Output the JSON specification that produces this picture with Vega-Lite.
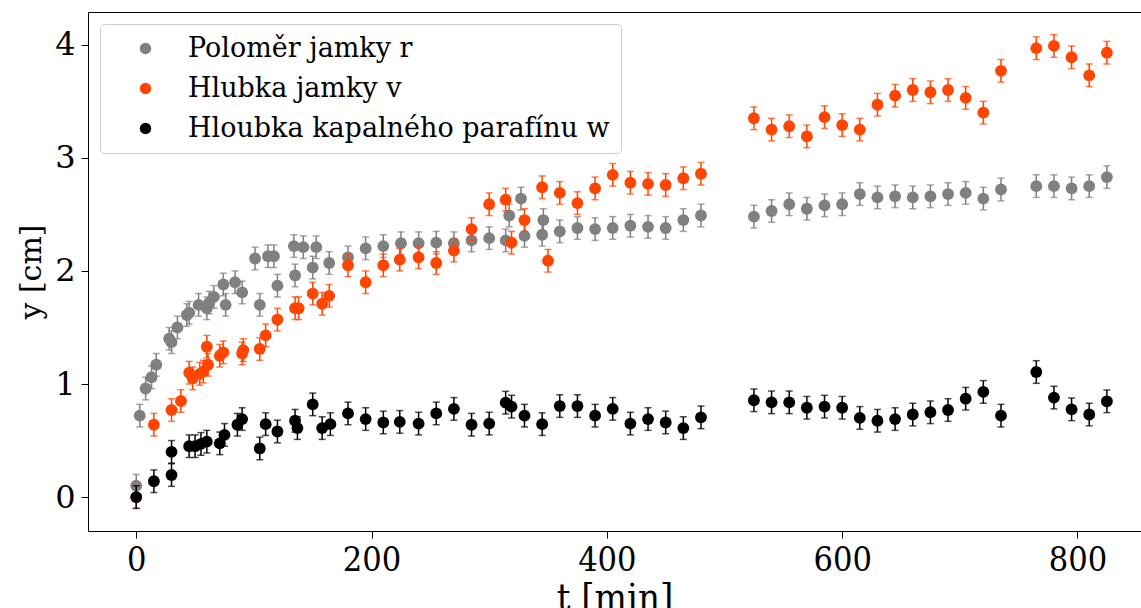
{
  "$schema": "https://vega.github.io/schema/vega-lite/v6.json",
  "width": 1053,
  "height": 519,
  "autosize": {"type": "none"},
  "padding": {"left": 88, "top": 12, "right": 0, "bottom": 77},
  "background": "white",
  "data": {"values": [
      {"s":"Poloměr jamky r","t":0,"y":0.10,"e":0.1},{"s":"Poloměr jamky r","t":3,"y":0.72,"e":0.1},{"s":"Poloměr jamky r","t":8,"y":0.96,"e":0.1},{"s":"Poloměr jamky r","t":13,"y":1.06,"e":0.1},{"s":"Poloměr jamky r","t":17,"y":1.17,"e":0.1},{"s":"Poloměr jamky r","t":28,"y":1.40,"e":0.1},{"s":"Poloměr jamky r","t":30,"y":1.37,"e":0.1},{"s":"Poloměr jamky r","t":35,"y":1.50,"e":0.1},{"s":"Poloměr jamky r","t":43,"y":1.61,"e":0.1},{"s":"Poloměr jamky r","t":45,"y":1.63,"e":0.1},{"s":"Poloměr jamky r","t":53,"y":1.70,"e":0.1},{"s":"Poloměr jamky r","t":60,"y":1.67,"e":0.1},{"s":"Poloměr jamky r","t":62,"y":1.72,"e":0.1},{"s":"Poloměr jamky r","t":66,"y":1.77,"e":0.1},{"s":"Poloměr jamky r","t":74,"y":1.88,"e":0.1},{"s":"Poloměr jamky r","t":76,"y":1.70,"e":0.1},{"s":"Poloměr jamky r","t":84,"y":1.90,"e":0.1},{"s":"Poloměr jamky r","t":90,"y":1.81,"e":0.1},{"s":"Poloměr jamky r","t":101,"y":2.11,"e":0.1},{"s":"Poloměr jamky r","t":105,"y":1.70,"e":0.1},{"s":"Poloměr jamky r","t":112,"y":2.13,"e":0.1},{"s":"Poloměr jamky r","t":117,"y":2.13,"e":0.1},{"s":"Poloměr jamky r","t":120,"y":1.87,"e":0.1},{"s":"Poloměr jamky r","t":134,"y":2.22,"e":0.1},{"s":"Poloměr jamky r","t":135,"y":1.96,"e":0.1},{"s":"Poloměr jamky r","t":142,"y":2.21,"e":0.1},{"s":"Poloměr jamky r","t":150,"y":2.03,"e":0.1},{"s":"Poloměr jamky r","t":153,"y":2.21,"e":0.1},{"s":"Poloměr jamky r","t":164,"y":2.07,"e":0.1},{"s":"Poloměr jamky r","t":180,"y":2.12,"e":0.1},{"s":"Poloměr jamky r","t":195,"y":2.20,"e":0.1},{"s":"Poloměr jamky r","t":210,"y":2.22,"e":0.1},{"s":"Poloměr jamky r","t":225,"y":2.245,"e":0.1},{"s":"Poloměr jamky r","t":240,"y":2.245,"e":0.1},{"s":"Poloměr jamky r","t":255,"y":2.25,"e":0.1},{"s":"Poloměr jamky r","t":270,"y":2.245,"e":0.1},{"s":"Poloměr jamky r","t":285,"y":2.27,"e":0.1},{"s":"Poloměr jamky r","t":300,"y":2.29,"e":0.1},{"s":"Poloměr jamky r","t":314,"y":2.27,"e":0.1},{"s":"Poloměr jamky r","t":317,"y":2.49,"e":0.1},{"s":"Poloměr jamky r","t":327,"y":2.64,"e":0.1},{"s":"Poloměr jamky r","t":330,"y":2.31,"e":0.1},{"s":"Poloměr jamky r","t":345,"y":2.32,"e":0.1},{"s":"Poloměr jamky r","t":346,"y":2.45,"e":0.1},{"s":"Poloměr jamky r","t":360,"y":2.35,"e":0.1},{"s":"Poloměr jamky r","t":375,"y":2.38,"e":0.1},{"s":"Poloměr jamky r","t":390,"y":2.37,"e":0.1},{"s":"Poloměr jamky r","t":405,"y":2.38,"e":0.1},{"s":"Poloměr jamky r","t":420,"y":2.40,"e":0.1},{"s":"Poloměr jamky r","t":435,"y":2.39,"e":0.1},{"s":"Poloměr jamky r","t":450,"y":2.38,"e":0.1},{"s":"Poloměr jamky r","t":465,"y":2.45,"e":0.1},{"s":"Poloměr jamky r","t":480,"y":2.49,"e":0.1},{"s":"Poloměr jamky r","t":525,"y":2.48,"e":0.1},{"s":"Poloměr jamky r","t":540,"y":2.53,"e":0.1},{"s":"Poloměr jamky r","t":555,"y":2.59,"e":0.1},{"s":"Poloměr jamky r","t":570,"y":2.55,"e":0.1},{"s":"Poloměr jamky r","t":585,"y":2.58,"e":0.1},{"s":"Poloměr jamky r","t":600,"y":2.59,"e":0.1},{"s":"Poloměr jamky r","t":615,"y":2.68,"e":0.1},{"s":"Poloměr jamky r","t":630,"y":2.65,"e":0.1},{"s":"Poloměr jamky r","t":645,"y":2.66,"e":0.1},{"s":"Poloměr jamky r","t":660,"y":2.65,"e":0.1},{"s":"Poloměr jamky r","t":675,"y":2.66,"e":0.1},{"s":"Poloměr jamky r","t":690,"y":2.68,"e":0.1},{"s":"Poloměr jamky r","t":705,"y":2.69,"e":0.1},{"s":"Poloměr jamky r","t":720,"y":2.64,"e":0.1},{"s":"Poloměr jamky r","t":735,"y":2.72,"e":0.1},{"s":"Poloměr jamky r","t":765,"y":2.75,"e":0.1},{"s":"Poloměr jamky r","t":780,"y":2.75,"e":0.1},{"s":"Poloměr jamky r","t":795,"y":2.73,"e":0.1},{"s":"Poloměr jamky r","t":810,"y":2.75,"e":0.1},{"s":"Poloměr jamky r","t":825,"y":2.83,"e":0.1},
      {"s":"Hlubka jamky v","t":0,"y":0.0,"e":0.1},{"s":"Hlubka jamky v","t":15,"y":0.64,"e":0.1},{"s":"Hlubka jamky v","t":30,"y":0.77,"e":0.1},{"s":"Hlubka jamky v","t":38,"y":0.85,"e":0.1},{"s":"Hlubka jamky v","t":45,"y":1.10,"e":0.1},{"s":"Hlubka jamky v","t":48,"y":1.05,"e":0.1},{"s":"Hlubka jamky v","t":54,"y":1.09,"e":0.1},{"s":"Hlubka jamky v","t":57,"y":1.11,"e":0.1},{"s":"Hlubka jamky v","t":60,"y":1.33,"e":0.1},{"s":"Hlubka jamky v","t":61,"y":1.17,"e":0.1},{"s":"Hlubka jamky v","t":71,"y":1.25,"e":0.1},{"s":"Hlubka jamky v","t":74,"y":1.28,"e":0.1},{"s":"Hlubka jamky v","t":90,"y":1.27,"e":0.1},{"s":"Hlubka jamky v","t":91,"y":1.30,"e":0.1},{"s":"Hlubka jamky v","t":105,"y":1.31,"e":0.1},{"s":"Hlubka jamky v","t":110,"y":1.43,"e":0.1},{"s":"Hlubka jamky v","t":120,"y":1.57,"e":0.1},{"s":"Hlubka jamky v","t":135,"y":1.67,"e":0.1},{"s":"Hlubka jamky v","t":138,"y":1.67,"e":0.1},{"s":"Hlubka jamky v","t":150,"y":1.80,"e":0.1},{"s":"Hlubka jamky v","t":158,"y":1.71,"e":0.1},{"s":"Hlubka jamky v","t":164,"y":1.78,"e":0.1},{"s":"Hlubka jamky v","t":180,"y":2.05,"e":0.1},{"s":"Hlubka jamky v","t":195,"y":1.90,"e":0.1},{"s":"Hlubka jamky v","t":210,"y":2.05,"e":0.1},{"s":"Hlubka jamky v","t":224,"y":2.10,"e":0.1},{"s":"Hlubka jamky v","t":240,"y":2.12,"e":0.1},{"s":"Hlubka jamky v","t":255,"y":2.07,"e":0.1},{"s":"Hlubka jamky v","t":270,"y":2.18,"e":0.1},{"s":"Hlubka jamky v","t":285,"y":2.37,"e":0.1},{"s":"Hlubka jamky v","t":300,"y":2.59,"e":0.1},{"s":"Hlubka jamky v","t":314,"y":2.63,"e":0.1},{"s":"Hlubka jamky v","t":319,"y":2.25,"e":0.1},{"s":"Hlubka jamky v","t":330,"y":2.45,"e":0.1},{"s":"Hlubka jamky v","t":345,"y":2.74,"e":0.1},{"s":"Hlubka jamky v","t":350,"y":2.09,"e":0.1},{"s":"Hlubka jamky v","t":360,"y":2.69,"e":0.1},{"s":"Hlubka jamky v","t":375,"y":2.60,"e":0.1},{"s":"Hlubka jamky v","t":390,"y":2.73,"e":0.1},{"s":"Hlubka jamky v","t":405,"y":2.85,"e":0.1},{"s":"Hlubka jamky v","t":420,"y":2.78,"e":0.1},{"s":"Hlubka jamky v","t":435,"y":2.77,"e":0.1},{"s":"Hlubka jamky v","t":450,"y":2.76,"e":0.1},{"s":"Hlubka jamky v","t":465,"y":2.82,"e":0.1},{"s":"Hlubka jamky v","t":480,"y":2.86,"e":0.1},{"s":"Hlubka jamky v","t":525,"y":3.35,"e":0.1},{"s":"Hlubka jamky v","t":540,"y":3.25,"e":0.1},{"s":"Hlubka jamky v","t":555,"y":3.28,"e":0.1},{"s":"Hlubka jamky v","t":570,"y":3.19,"e":0.1},{"s":"Hlubka jamky v","t":585,"y":3.36,"e":0.1},{"s":"Hlubka jamky v","t":600,"y":3.29,"e":0.1},{"s":"Hlubka jamky v","t":615,"y":3.25,"e":0.1},{"s":"Hlubka jamky v","t":630,"y":3.47,"e":0.1},{"s":"Hlubka jamky v","t":645,"y":3.55,"e":0.1},{"s":"Hlubka jamky v","t":660,"y":3.60,"e":0.1},{"s":"Hlubka jamky v","t":675,"y":3.58,"e":0.1},{"s":"Hlubka jamky v","t":690,"y":3.60,"e":0.1},{"s":"Hlubka jamky v","t":705,"y":3.53,"e":0.1},{"s":"Hlubka jamky v","t":720,"y":3.40,"e":0.1},{"s":"Hlubka jamky v","t":735,"y":3.77,"e":0.1},{"s":"Hlubka jamky v","t":765,"y":3.97,"e":0.1},{"s":"Hlubka jamky v","t":780,"y":3.99,"e":0.1},{"s":"Hlubka jamky v","t":795,"y":3.89,"e":0.1},{"s":"Hlubka jamky v","t":810,"y":3.73,"e":0.1},{"s":"Hlubka jamky v","t":825,"y":3.93,"e":0.1},
      {"s":"Hloubka kapalného parafínu w","t":0,"y":0.0,"e":0.1},{"s":"Hloubka kapalného parafínu w","t":15,"y":0.14,"e":0.1},{"s":"Hloubka kapalného parafínu w","t":30,"y":0.195,"e":0.1},{"s":"Hloubka kapalného parafínu w","t":30,"y":0.40,"e":0.1},{"s":"Hloubka kapalného parafínu w","t":45,"y":0.45,"e":0.1},{"s":"Hloubka kapalného parafínu w","t":50,"y":0.45,"e":0.1},{"s":"Hloubka kapalného parafínu w","t":55,"y":0.47,"e":0.1},{"s":"Hloubka kapalného parafínu w","t":60,"y":0.49,"e":0.1},{"s":"Hloubka kapalného parafínu w","t":71,"y":0.475,"e":0.1},{"s":"Hloubka kapalného parafínu w","t":75,"y":0.55,"e":0.1},{"s":"Hloubka kapalného parafínu w","t":86,"y":0.64,"e":0.1},{"s":"Hloubka kapalného parafínu w","t":90,"y":0.69,"e":0.1},{"s":"Hloubka kapalného parafínu w","t":105,"y":0.43,"e":0.1},{"s":"Hloubka kapalného parafínu w","t":110,"y":0.645,"e":0.1},{"s":"Hloubka kapalného parafínu w","t":120,"y":0.58,"e":0.1},{"s":"Hloubka kapalného parafínu w","t":135,"y":0.675,"e":0.1},{"s":"Hloubka kapalného parafínu w","t":137,"y":0.61,"e":0.1},{"s":"Hloubka kapalného parafínu w","t":150,"y":0.82,"e":0.1},{"s":"Hloubka kapalného parafínu w","t":158,"y":0.61,"e":0.1},{"s":"Hloubka kapalného parafínu w","t":165,"y":0.645,"e":0.1},{"s":"Hloubka kapalného parafínu w","t":180,"y":0.74,"e":0.1},{"s":"Hloubka kapalného parafínu w","t":195,"y":0.69,"e":0.1},{"s":"Hloubka kapalného parafínu w","t":210,"y":0.66,"e":0.1},{"s":"Hloubka kapalného parafínu w","t":224,"y":0.665,"e":0.1},{"s":"Hloubka kapalného parafínu w","t":240,"y":0.65,"e":0.1},{"s":"Hloubka kapalného parafínu w","t":255,"y":0.74,"e":0.1},{"s":"Hloubka kapalného parafínu w","t":270,"y":0.78,"e":0.1},{"s":"Hloubka kapalného parafínu w","t":285,"y":0.64,"e":0.1},{"s":"Hloubka kapalného parafínu w","t":300,"y":0.65,"e":0.1},{"s":"Hloubka kapalného parafínu w","t":314,"y":0.835,"e":0.1},{"s":"Hloubka kapalného parafínu w","t":319,"y":0.80,"e":0.1},{"s":"Hloubka kapalného parafínu w","t":330,"y":0.72,"e":0.1},{"s":"Hloubka kapalného parafínu w","t":345,"y":0.645,"e":0.1},{"s":"Hloubka kapalného parafínu w","t":360,"y":0.805,"e":0.1},{"s":"Hloubka kapalného parafínu w","t":375,"y":0.805,"e":0.1},{"s":"Hloubka kapalného parafínu w","t":390,"y":0.72,"e":0.1},{"s":"Hloubka kapalného parafínu w","t":405,"y":0.78,"e":0.1},{"s":"Hloubka kapalného parafínu w","t":420,"y":0.65,"e":0.1},{"s":"Hloubka kapalného parafínu w","t":435,"y":0.69,"e":0.1},{"s":"Hloubka kapalného parafínu w","t":450,"y":0.66,"e":0.1},{"s":"Hloubka kapalného parafínu w","t":465,"y":0.61,"e":0.1},{"s":"Hloubka kapalného parafínu w","t":480,"y":0.705,"e":0.1},{"s":"Hloubka kapalného parafínu w","t":525,"y":0.856,"e":0.1},{"s":"Hloubka kapalného parafínu w","t":540,"y":0.838,"e":0.1},{"s":"Hloubka kapalného parafínu w","t":555,"y":0.838,"e":0.1},{"s":"Hloubka kapalného parafínu w","t":570,"y":0.79,"e":0.1},{"s":"Hloubka kapalného parafínu w","t":585,"y":0.80,"e":0.1},{"s":"Hloubka kapalného parafínu w","t":600,"y":0.79,"e":0.1},{"s":"Hloubka kapalného parafínu w","t":615,"y":0.70,"e":0.1},{"s":"Hloubka kapalného parafínu w","t":630,"y":0.675,"e":0.1},{"s":"Hloubka kapalného parafínu w","t":645,"y":0.69,"e":0.1},{"s":"Hloubka kapalného parafínu w","t":660,"y":0.73,"e":0.1},{"s":"Hloubka kapalného parafínu w","t":675,"y":0.75,"e":0.1},{"s":"Hloubka kapalného parafínu w","t":690,"y":0.77,"e":0.1},{"s":"Hloubka kapalného parafínu w","t":705,"y":0.87,"e":0.1},{"s":"Hloubka kapalného parafínu w","t":720,"y":0.93,"e":0.1},{"s":"Hloubka kapalného parafínu w","t":735,"y":0.72,"e":0.1},{"s":"Hloubka kapalného parafínu w","t":765,"y":1.106,"e":0.1},{"s":"Hloubka kapalného parafínu w","t":780,"y":0.88,"e":0.1},{"s":"Hloubka kapalného parafínu w","t":795,"y":0.776,"e":0.1},{"s":"Hloubka kapalného parafínu w","t":810,"y":0.73,"e":0.1},{"s":"Hloubka kapalného parafínu w","t":825,"y":0.847,"e":0.1}
  ]},
  "encoding": {
    "x": {"field": "t", "type": "quantitative", "scale": {"domain": [-41, 854], "nice": false, "zero": false},
          "axis": {"values": [0, 200, 400, 600, 800], "title": "t [min]", "labelFont": "DejaVu Serif Condensed", "labelFontSize": 34, "titleFont": "DejaVu Serif Condensed", "titleFontSize": 38, "titleFontWeight": "normal", "titlePadding": 2, "labelPadding": 5}},
    "y": {"field": "y", "type": "quantitative", "scale": {"domain": [-0.30, 4.29], "nice": false, "zero": false},
          "axis": {"values": [0, 1, 2, 3, 4], "title": "y [cm]", "labelFont": "DejaVu Serif", "labelFontSize": 32, "titleFont": "DejaVu Serif", "titleFontSize": 30, "titleFontWeight": "normal", "titlePadding": 8, "labelPadding": 6}}
  },
  "layer": [
    {"transform": [{"filter": {"field": "s", "equal": "Poloměr jamky r"}}], "mark": {"type": "errorbar", "ticks": true, "size": 7, "thickness": 1.5, "color": "#808080"}, "encoding": {"yError": {"field": "e"}}},
    {"transform": [{"filter": {"field": "s", "equal": "Poloměr jamky r"}}], "mark": {"type": "point", "filled": true, "size": 140, "opacity": 1}, "encoding": {"color": {"field": "s", "type": "nominal", "scale": {"domain": ["Poloměr jamky r", "Hlubka jamky v", "Hloubka kapalného parafínu w"], "range": ["#808080", "#ff4500", "#000000"]}, "legend": {"title": null}}}},
    {"transform": [{"filter": {"field": "s", "equal": "Hlubka jamky v"}}], "mark": {"type": "errorbar", "ticks": true, "size": 7, "thickness": 1.5, "color": "#ff4500"}, "encoding": {"yError": {"field": "e"}}},
    {"transform": [{"filter": {"field": "s", "equal": "Hlubka jamky v"}}], "mark": {"type": "point", "filled": true, "size": 140, "opacity": 1}, "encoding": {"color": {"field": "s", "type": "nominal", "legend": {"title": null}}}},
    {"transform": [{"filter": {"field": "s", "equal": "Hloubka kapalného parafínu w"}}], "mark": {"type": "errorbar", "ticks": true, "size": 7, "thickness": 1.5, "color": "#000000"}, "encoding": {"yError": {"field": "e"}}},
    {"transform": [{"filter": {"field": "s", "equal": "Hloubka kapalného parafínu w"}}], "mark": {"type": "point", "filled": true, "size": 140, "opacity": 1}, "encoding": {"color": {"field": "s", "type": "nominal", "legend": {"title": null}}}}
  ],
  "config": {
    "view": {"stroke": "#000000", "strokeWidth": 1},
    "axis": {"domain": false, "grid": false, "tickColor": "#000", "tickSize": 7, "tickWidth": 1, "labelColor": "#000", "titleColor": "#000"},
    "legend": {
      "orient": "none", "legendX": 12, "legendY": 12,
      "labelFont": "DejaVu Serif", "labelFontSize": 27, "labelColor": "#000", "labelLimit": 0,
      "symbolType": "circle", "symbolSize": 130, "symbolStrokeWidth": 0,
      "padding": 11, "symbolOffset": 21, "labelOffset": 29, "rowPadding": 12,
      "strokeColor": "#cccccc", "fillColor": "rgba(255,255,255,0.8)", "cornerRadius": 4
    }
  }
}
